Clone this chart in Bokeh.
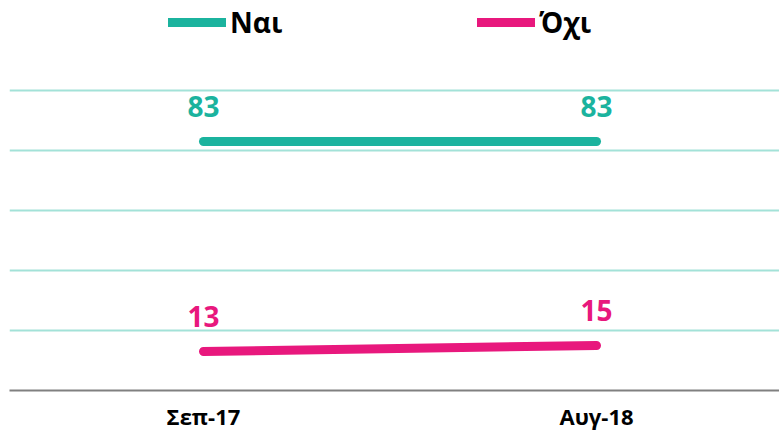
from bokeh.plotting import figure
from bokeh.models import (ColumnDataSource, Range1d, FixedTicker, Legend, LegendItem,
                          CustomJSTickFormatter)
from bokeh.embed import file_html
from bokeh.resources import INLINE
from bokeh.core.properties import value

categories = ["Σεπ-17", "Αυγ-18"]
nai = [83, 83]
oxi = [13, 15]
series_names = ["Ναι", "Όχι"]
colors = ["#1BB39E", "#E8187D"]

FONT = "Open Sans"
x = list(range(len(categories)))

p = figure(frame_width=770, frame_height=390, output_backend="svg", toolbar_location=None,
           x_range=Range1d(-0.4936, 1.4656), y_range=Range1d(0, 130),
           min_border_left=9, min_border_right=0, min_border_top=0, min_border_bottom=0)
p.outline_line_color = None
p.background_fill_color = "white"
p.border_fill_color = "white"

p.xgrid.visible = False
p.ygrid.ticker = FixedTicker(ticks=[20, 40, 60, 80, 100])
p.ygrid.grid_line_color = "#A3E2D8"
p.ygrid.grid_line_width = 2
p.yaxis.visible = False

p.xaxis.ticker = FixedTicker(ticks=x)
p.xaxis.formatter = CustomJSTickFormatter(args=dict(labels=categories),
                                          code="return labels[tick] || '';")
p.xaxis.axis_line_color = "#808080"
p.xaxis.axis_line_width = 2
p.xaxis.major_tick_line_color = None
p.xaxis.minor_tick_line_color = None
p.xaxis.major_tick_out = 0
p.xaxis.major_label_standoff = 10
p.xaxis.major_label_text_font = FONT
p.xaxis.major_label_text_font_style = "bold"
p.xaxis.major_label_text_font_size = "22px"
p.xaxis.major_label_text_color = "black"

renderers = []
for vals, col in zip([nai, oxi], colors):
    src = ColumnDataSource(dict(x=x, y=vals, lab=[str(v) for v in vals]))
    r = p.line("x", "y", source=src, line_color=col, line_width=9, line_cap="round")
    renderers.append(r)
    p.text("x", "y", text="lab", source=src, text_align="center", text_baseline="bottom",
           y_offset=-25, text_color=col, text_font=value(FONT), text_font_style="bold",
           text_font_size="28px")

legend = Legend(items=[LegendItem(label=n, renderers=[r]) for n, r in zip(series_names, renderers)],
                orientation="horizontal", location=(159, 349), padding=0, margin=0,
                spacing=195, glyph_width=58, glyph_height=38, label_height=38, label_standoff=4,
                label_text_font=FONT, label_text_font_style="bold", label_text_font_size="28px",
                label_text_color="black", border_line_color=None, background_fill_alpha=0)
p.add_layout(legend)

open("out.html", "w").write(file_html(p, INLINE))
